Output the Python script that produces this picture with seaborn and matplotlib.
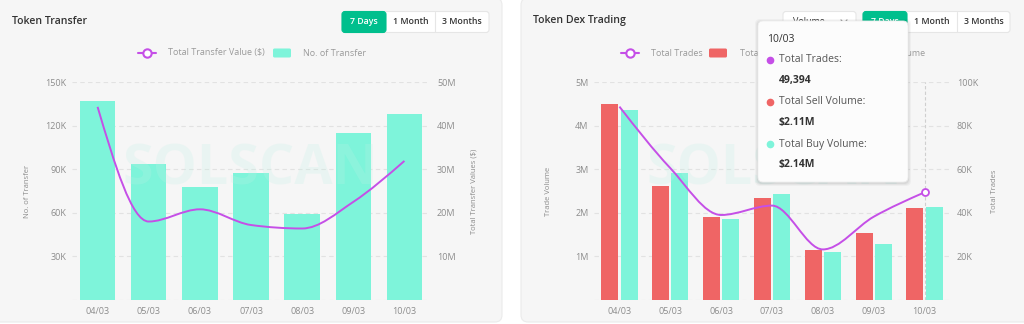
import numpy as np
import pandas as pd
import matplotlib
matplotlib.use("Agg")
import matplotlib.pyplot as plt
import seaborn as sns
from matplotlib.patches import FancyBboxPatch, PathPatch
from matplotlib.path import Path
from matplotlib.lines import Line2D
from matplotlib.ticker import FuncFormatter, MultipleLocator

# ---------------- datos ----------------
dates = ["04/03", "05/03", "06/03", "07/03", "08/03", "09/03", "10/03"]
transfer_count = [137000, 93600, 78000, 87600, 59200, 114700, 128000]
transfer_value = [44.3e6, 18.0e6, 20.8e6, 17.2e6, 16.4e6, 22.5e6, 31.9e6]
sell_volume = [4.50e6, 2.61e6, 1.91e6, 2.34e6, 1.15e6, 1.54e6, 2.11e6]
buy_volume = [4.36e6, 2.91e6, 1.85e6, 2.43e6, 1.09e6, 1.28e6, 2.14e6]
total_trades = [88700, 60500, 39000, 43300, 23200, 38200, 49394]

TEAL = "#7ef4da"
RED = "#ef6565"
PURPLE = "#c54fe7"
GREEN = "#00bf8d"
CARD = "#f6f6f6"
TICK = "#8c8c8c"
LEG = "#9a9a9a"

sns.set_style("white")
plt.rcParams["font.family"] = ["Open Sans", "DejaVu Sans"]

W, H = 1024, 324
fig = plt.figure(figsize=(W / 100, H / 100), dpi=100)
fig.patch.set_facecolor("white")


def frac(x0, y0, x1, y1):
    # caja en píxeles (y desde arriba) -> coordenadas de figura
    return [x0 / W, 1 - y1 / H, (x1 - x0) / W, (y1 - y0) / H]


def monotone_path(xs, ys):
    # curva monótona (estilo d3 monotoneX) como path Bezier
    xs = np.asarray(xs, float)
    ys = np.asarray(ys, float)
    h = np.diff(xs)
    s = np.diff(ys) / h
    n = len(xs)
    t = np.zeros(n)
    for i in range(1, n - 1):
        p = (s[i - 1] * h[i] + s[i] * h[i - 1]) / (h[i - 1] + h[i])
        t[i] = (np.sign(s[i - 1]) + np.sign(s[i])) * min(abs(s[i - 1]), abs(s[i]), 0.5 * abs(p))
    t[0] = (3 * s[0] - t[1]) / 2
    t[-1] = (3 * s[-1] - t[-2]) / 2
    verts = [(xs[0], ys[0])]
    codes = [Path.MOVETO]
    for i in range(n - 1):
        dx = h[i] / 3
        verts += [(xs[i] + dx, ys[i] + dx * t[i]),
                  (xs[i + 1] - dx, ys[i + 1] - dx * t[i + 1]),
                  (xs[i + 1], ys[i + 1])]
        codes += [Path.CURVE4] * 3
    return Path(verts, codes)


# ---------------- fondo: tarjetas, títulos, botones, leyendas ----------------
bg = fig.add_axes([0, 0, 1, 1])
bg.set_xlim(0, W)
bg.set_ylim(H, 0)
bg.axis("off")
bg.set_zorder(-1)

for x0, x1 in [(-12, 502), (521, 1036)]:
    bg.add_patch(FancyBboxPatch((x0, -2), x1 - x0, 324, boxstyle="round,pad=0,rounding_size=7",
                                facecolor=CARD, edgecolor="#ebebeb", lw=0.8))

bg.text(12, 21, "Token Transfer", fontsize=7.6, weight="semibold", color="#333333", va="center")
bg.text(533, 21, "Token Dex Trading", fontsize=7.6, weight="semibold", color="#333333", va="center")


def buttons(x0, xs_green, xs_sep, x_end, labels):
    bg.add_patch(FancyBboxPatch((x0, 11.5), x_end - x0, 21, boxstyle="round,pad=0,rounding_size=3",
                                facecolor="white", edgecolor="#e6e6e6", lw=0.8))
    bg.add_patch(FancyBboxPatch((x0, 11.5), xs_green - x0, 21, boxstyle="round,pad=0,rounding_size=3",
                                facecolor=GREEN, edgecolor=GREEN, lw=0.8))
    bg.plot([xs_sep, xs_sep], [12, 32], color="#e6e6e6", lw=0.8)
    bounds = [x0, xs_green, xs_sep, x_end]
    for i, lab in enumerate(labels):
        c = "white" if i == 0 else "#333333"
        bg.text((bounds[i] + bounds[i + 1]) / 2, 22, lab, fontsize=6.3, weight="semibold",
                color=c, ha="center", va="center")


buttons(342, 386, 435, 489, ["7 Days", "1 Month", "3 Months"])
buttons(863, 907, 957, 1010, ["7 Days", "1 Month", "3 Months"])

# selector "Volume"
bg.add_patch(FancyBboxPatch((783, 11.5), 73, 21, boxstyle="round,pad=0,rounding_size=3",
                            facecolor="white", edgecolor="#e6e6e6", lw=0.8))
bg.text(793, 22, "Volume", fontsize=6.5, color="#333333", va="center")
bg.plot([841, 844, 847], [20, 23, 20], color="#666666", lw=0.8)


def leg_line(x, y):
    bg.add_line(Line2D([x - 9, x + 9], [y, y], color=PURPLE, lw=1.5))
    bg.add_line(Line2D([x], [y], marker="o", ms=6, mfc="white", mec=PURPLE, mew=1.5))


def leg_rect(x0, y, color):
    bg.add_patch(FancyBboxPatch((x0, y - 4.5), 18, 9, boxstyle="round,pad=0,rounding_size=1.5",
                                facecolor=color, edgecolor="none"))


leg_line(147, 53)
bg.text(168, 53, "Total Transfer Value ($)", fontsize=6.5, color=LEG, va="center")
leg_rect(273, 53, TEAL)
bg.text(303, 53, "No. of Transfer", fontsize=6.5, color=LEG, va="center")

leg_line(630, 53)
bg.text(651, 53, "Total Trades", fontsize=6.5, color=LEG, va="center")
leg_rect(709, 53, RED)
bg.text(740, 53, "Total Sell Volume", fontsize=6.5, color=LEG, va="center")
leg_rect(822, 53, TEAL)
bg.text(852, 53, "Total Buy Volume", fontsize=6.5, color=LEG, va="center")


def style_axes(ax, ax2, left_fmt, right_fmt, left_step, right_step, ytop, ytop2):
    ax.set_facecolor("none")
    ax.set_xlim(-0.5, 6.5)
    ax.set_ylim(0, ytop)
    ax2.set_ylim(0, ytop2)
    ax.yaxis.set_major_locator(MultipleLocator(left_step))
    ax2.yaxis.set_major_locator(MultipleLocator(right_step))
    ax.yaxis.set_major_formatter(FuncFormatter(left_fmt))
    ax2.yaxis.set_major_formatter(FuncFormatter(right_fmt))
    ax.set_axisbelow(True)
    ax.yaxis.grid(True, color="#e2e2e2", ls=(0, (4, 3)), lw=0.8)
    ax.xaxis.grid(False)
    ax2.grid(False)
    for a in (ax, ax2):
        for sp in a.spines.values():
            sp.set_visible(False)
        a.tick_params(length=0, labelsize=6.5, colors=TICK)
    ax.tick_params(axis="y", pad=4)
    ax2.tick_params(axis="y", pad=5)
    ax.tick_params(axis="x", pad=5)
    ax.set_xlabel("")


def watermark(ax, x):
    ax.text(x, 0.596, "SOLSCAN", transform=ax.transAxes, fontsize=40, weight="bold",
            color="#bff0e6", alpha=0.22, ha="center", va="center", zorder=1)


# ---------------- gráfico 1: Token Transfer ----------------
ax = fig.add_axes(frac(72, 82, 430, 300))
sns.barplot(x=dates, y=transfer_count, color=TEAL, saturation=1, width=0.69,
            linewidth=0, edgecolor="none", ax=ax)
ax2 = ax.twinx()
ax2.add_patch(PathPatch(monotone_path(range(len(dates)), transfer_value), facecolor="none",
                        edgecolor=PURPLE, lw=1.4, zorder=3))
style_axes(ax, ax2,
           lambda v, p: "" if v == 0 else f"{int(round(v / 1000))}K",
           lambda v, p: "" if v == 0 else f"{int(round(v / 1e6))}M",
           30000, 10e6, 150000, 50e6)
ax.set_ylabel("No. of Transfer", fontsize=5.5, color=TICK)
ax.yaxis.set_label_coords(-0.123, 0.5)
ax.yaxis.label.set_va("center")
ax2.set_ylabel("Total Transfer Values ($)", fontsize=5.5, color=TICK, rotation=90)
ax2.yaxis.set_label_coords(1.123, 0.5)
ax2.yaxis.label.set_va("center")
watermark(ax2, 0.497)

# ---------------- gráfico 2: Token Dex Trading ----------------
df_vol = pd.DataFrame({
    "date": dates * 2,
    "volume": sell_volume + buy_volume,
    "type": ["Total Sell Volume"] * len(dates) + ["Total Buy Volume"] * len(dates),
})
bx = fig.add_axes(frac(594, 82, 950, 300))
sns.barplot(data=df_vol, x="date", y="volume", hue="type", palette=[RED, TEAL], saturation=1,
            width=0.76, gap=0.12, linewidth=0, edgecolor="none", legend=False, ax=bx)
bx2 = bx.twinx()
bx2.add_patch(PathPatch(monotone_path(range(len(dates)), total_trades), facecolor="none",
                        edgecolor=PURPLE, lw=1.4, zorder=3))
style_axes(bx, bx2,
           lambda v, p: "" if v == 0 else f"{int(round(v / 1e6))}M",
           lambda v, p: "" if v == 0 else f"{int(round(v / 1000))}K",
           1e6, 20000, 5e6, 100000)
bx.set_ylabel("Trade Volume", fontsize=5.5, color=TICK)
bx.yaxis.set_label_coords(-0.129, 0.5)
bx.yaxis.label.set_va("center")
bx2.set_ylabel("Total Trades", fontsize=5.5, color=TICK, rotation=90)
bx2.yaxis.set_label_coords(1.126, 0.5)
bx2.yaxis.label.set_va("center")
bx.axvline(6, color="#cfcfcf", ls=(0, (3, 2)), lw=0.8, zorder=4)
bx2.plot([6], [total_trades[6]], marker="o", ms=5, mfc="white", mec=PURPLE, mew=1.3, zorder=5)
watermark(bx2, 0.506)

# ---------------- tooltip ----------------
top = fig.add_axes([0, 0, 1, 1])
top.set_xlim(0, W)
top.set_ylim(H, 0)
top.axis("off")
top.set_zorder(10)
for k, a in enumerate([0.05, 0.04, 0.03]):
    d = 1 + k
    top.add_patch(FancyBboxPatch((758 - d, 21 - d + 1), 150 + 2 * d, 161 + 2 * d,
                                 boxstyle="round,pad=0,rounding_size=5",
                                 facecolor="black", edgecolor="none", alpha=a))
top.add_patch(FancyBboxPatch((758, 21), 150, 161, boxstyle="round,pad=0,rounding_size=5",
                             facecolor="#fcfcfc", edgecolor="#eeeeee", lw=0.6))
top.text(767, 39, "10/03", fontsize=7.5, color="#333333", va="center")
rows = [(PURPLE, "Total Trades:", f"{total_trades[6]:,}"),
        (RED, "Total Sell Volume:", f"${sell_volume[6] / 1e6:.2f}M"),
        (TEAL, "Total Buy Volume:", f"${buy_volume[6] / 1e6:.2f}M")]
for i, (c, lab, val) in enumerate(rows):
    y = 60 + 42 * i
    top.add_line(Line2D([770], [y], marker="o", ms=4.5, mfc=c, mec=c))
    top.text(779, y, lab, fontsize=7.5, color="#555555", va="center")
    top.text(779, y + 21, val, fontsize=7.5, weight="bold", color="#333333", va="center")

fig.savefig("out.png", dpi=100)
